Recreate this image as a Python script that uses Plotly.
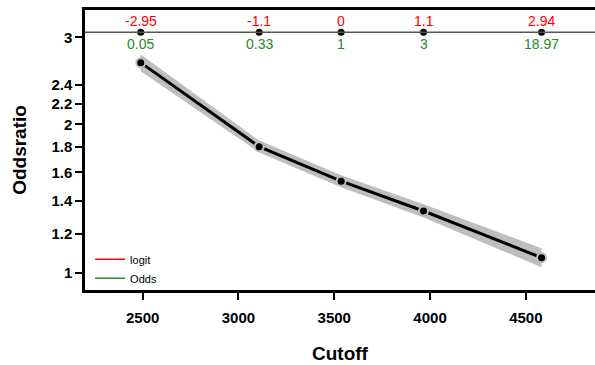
import math
import plotly.graph_objects as go

# ---- data ----
cutoff = [2490, 3108, 3536, 3966, 4582]
oddsratio = [2.666, 1.803, 1.535, 1.336, 1.075]
ci_low = [2.56, 1.755, 1.493, 1.297, 1.028]
ci_high = [2.77, 1.855, 1.578, 1.378, 1.123]
logit_labels = ["-2.95", "-1.1", "0", "1.1", "2.94"]
odds_labels = ["0.05", "0.33", "1", "3", "18.97"]
ref_level = 3.07
y_ticks = [1, 1.2, 1.4, 1.6, 1.8, 2, 2.2, 2.4, 3]
x_ticks = [2500, 3000, 3500, 4000, 4500]

BAND = "#BEBEBE"
FONT = "Liberation Sans"
RED = "#FF0000"
GREEN = "#228B22"

fig = go.Figure()

# confidence band
fig.add_trace(go.Scatter(x=cutoff, y=ci_high, mode="lines", line=dict(width=0, color=BAND),
                         showlegend=False, hoverinfo="skip"))
fig.add_trace(go.Scatter(x=cutoff, y=ci_low, mode="lines", line=dict(width=0, color=BAND),
                         fill="tonexty", fillcolor=BAND, showlegend=False, hoverinfo="skip"))
# main line
fig.add_trace(go.Scatter(x=cutoff, y=oddsratio, mode="lines", line=dict(color="black", width=3),
                         showlegend=False))
# gaps around points (type "b")
fig.add_trace(go.Scatter(x=cutoff, y=oddsratio, mode="markers",
                         marker=dict(color=BAND, size=11, line=dict(width=0)), showlegend=False))
fig.add_trace(go.Scatter(x=cutoff, y=oddsratio, mode="markers",
                         marker=dict(color="black", size=7, line=dict(width=0)), showlegend=False))

# reference line with logit / odds labels
fig.add_hline(y=ref_level, line=dict(color="#555555", width=1.5))
fig.add_trace(go.Scatter(x=cutoff, y=[ref_level] * len(cutoff), mode="markers",
                         marker=dict(color="black", size=7), showlegend=False))
for xv, lt, ot in zip(cutoff, logit_labels, odds_labels):
    fig.add_annotation(x=xv, y=math.log10(ref_level), text=lt, showarrow=False,
                       yshift=11, font=dict(color=RED, size=14, family=FONT))
    fig.add_annotation(x=xv, y=math.log10(ref_level), text=ot, showarrow=False,
                       yshift=-12, font=dict(color=GREEN, size=14, family=FONT))

# legend entries
fig.add_trace(go.Scatter(x=[None], y=[None], mode="lines", name="logit",
                         line=dict(color=RED, width=1.5)))
fig.add_trace(go.Scatter(x=[None], y=[None], mode="lines", name="Odds",
                         line=dict(color=GREEN, width=1.5)))

fig.update_layout(
    width=595, height=365,
    margin=dict(l=85, r=0, t=10, b=75),
    paper_bgcolor="white", plot_bgcolor="white",
    font=dict(family=FONT, color="black"),
    legend=dict(x=0.01, y=-0.01, xanchor="left", yanchor="bottom", traceorder="normal",
                bgcolor="rgba(0,0,0,0)", font=dict(size=11, family=FONT),
                tracegroupgap=0, itemwidth=30),
)
fig.update_xaxes(
    range=[2199, 4861], tickvals=x_ticks, ticktext=[str(v) for v in x_ticks],
    ticks="outside", ticklen=7, tickwidth=2, tickcolor="black",
    showline=True, linewidth=2.5, linecolor="black", mirror=True,
    showgrid=False, zeroline=False, ticklabelstandoff=5,
    tickfont=dict(size=15, family=FONT, weight="bold"),
    title=dict(text="<b>Cutoff</b>", font=dict(size=19, family=FONT), standoff=22),
)
fig.update_yaxes(
    type="log", range=[-0.0339, 0.5323], tickvals=y_ticks, ticktext=[str(v) for v in y_ticks],
    ticks="outside", ticklen=7, tickwidth=2, tickcolor="black",
    showline=True, linewidth=2.5, linecolor="black",
    showgrid=False, zeroline=False,
    tickfont=dict(size=15, family=FONT, weight="bold"),
    title=dict(text="<b>Oddsratio</b>", font=dict(size=19, family=FONT), standoff=20),
)

fig.write_html("out.html")
